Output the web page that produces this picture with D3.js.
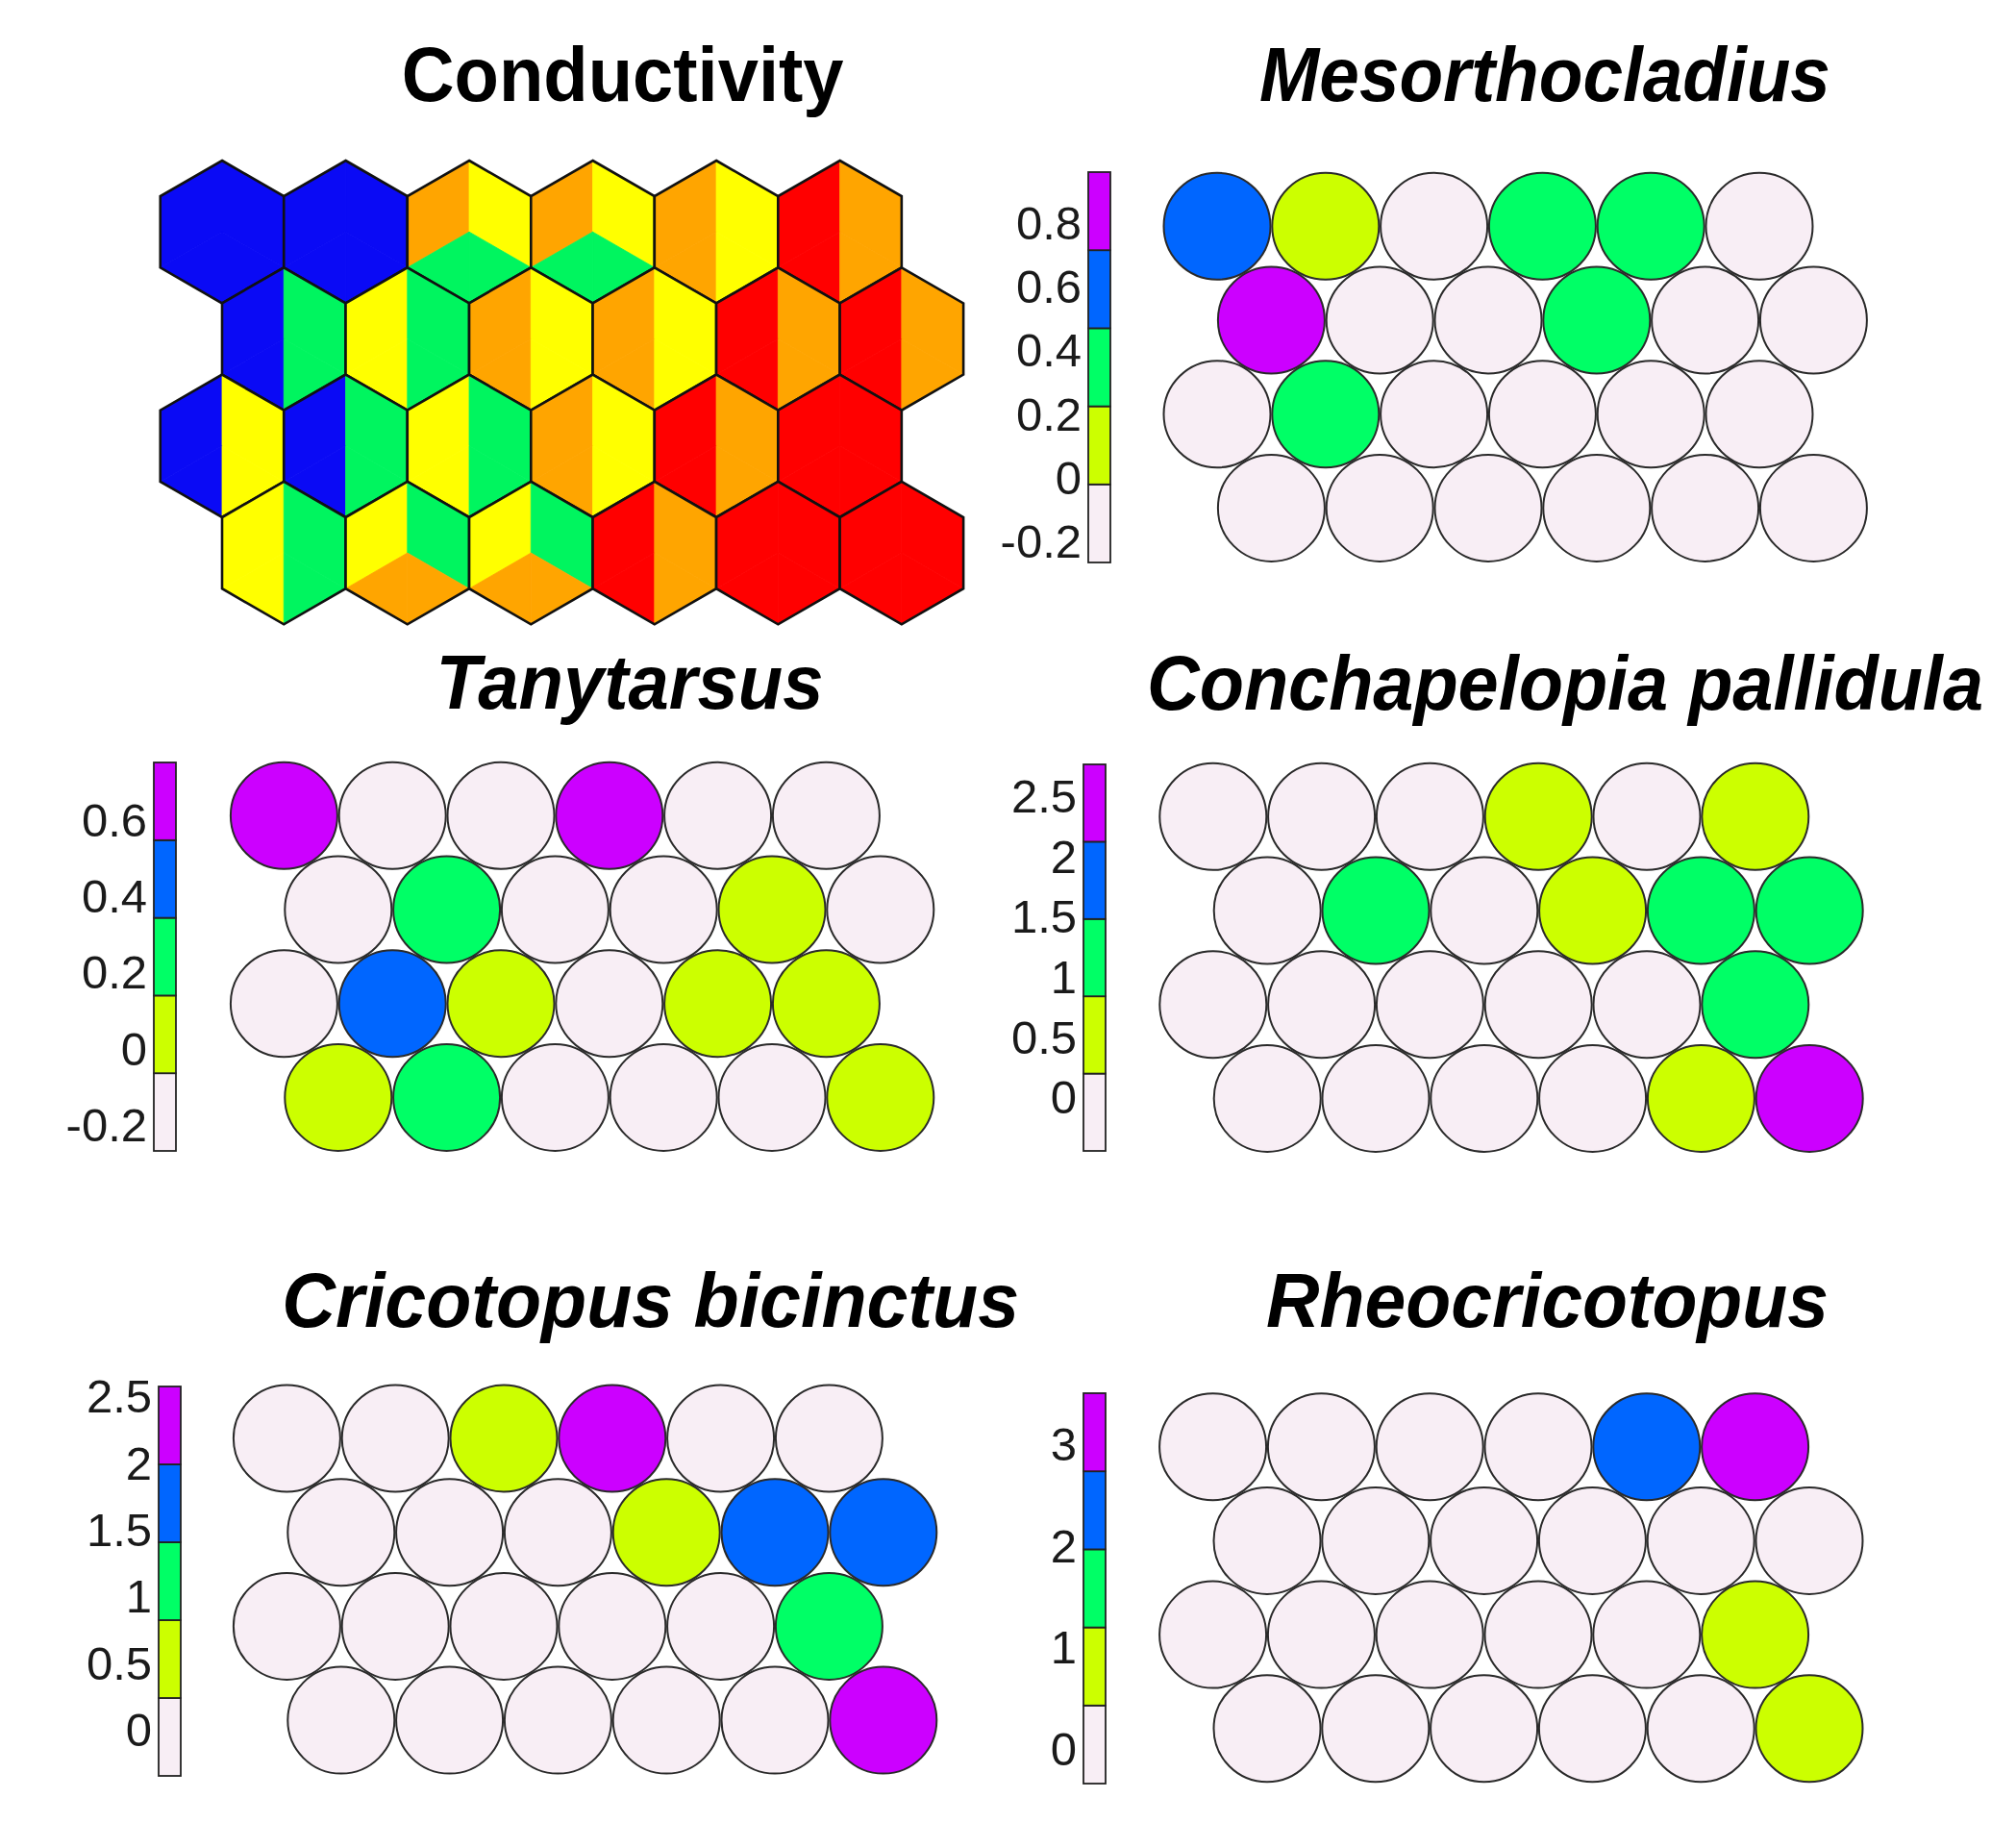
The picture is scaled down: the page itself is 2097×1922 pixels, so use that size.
<!DOCTYPE html>
<html>
<head>
<meta charset="utf-8">
<script src="https://d3js.org/d3.v7.min.js"></script>
<style>
  body { margin: 0; background: #fff; }
  svg { display: block; }
</style>
</head>
<body>
<div id="chart"></div>
<script>

//--------------------------------------
// DATA
//--------------------------------------

// conductivity classes per hex (1 blue .. 5 red), row by row, 6 x 4 nodes
var condLeft   = [1,1,4,4,4,5,  1,3,4,4,5,5,  1,1,3,4,5,5,  3,3,3,5,5,5];
var condRight  = [1,1,3,3,3,4,  2,2,3,3,4,4,  3,2,2,3,4,5,  2,2,2,4,5,5];
var condBottom = [0,0,2,2,0,0,  0,0,0,0,0,0,  0,0,0,0,0,0,  0,4,4,0,0,0];
var condColours = ["#0a0af5", "#00f55f", "#ffff00", "#ffa500", "#ff0000"];

// node values of the taxa maps, row by row
var mesoValues = [ 0.62, 0.12,-0.22, 0.38, 0.33,-0.25,
                   0.96,-0.24,-0.20, 0.41,-0.23,-0.26,
                  -0.21, 0.30,-0.24,-0.25,-0.22,-0.27,
                  -0.26,-0.23,-0.25,-0.27,-0.24,-0.26];
var tanyValues = [ 0.75,-0.25,-0.27, 0.70,-0.26,-0.24,
                  -0.25, 0.26,-0.27,-0.26, 0.05,-0.24,
                  -0.26, 0.45, 0.08,-0.27, 0.02, 0.10,
                   0.04, 0.22,-0.25,-0.27,-0.26, 0.06];
var conchValues = [-0.42,-0.40,-0.43, 0.55,-0.38, 0.60,
                   -0.41, 1.10,-0.44, 0.48, 1.25, 1.05,
                   -0.43,-0.45,-0.42,-0.40,-0.39, 1.20,
                   -0.44,-0.42,-0.41,-0.43, 0.70, 2.76];
var cricoValues = [-0.33,-0.30, 0.55, 2.30,-0.32,-0.34,
                   -0.31,-0.35,-0.33, 0.65, 1.70, 1.62,
                   -0.34,-0.32,-0.30,-0.33,-0.29, 1.10,
                   -0.34,-0.31,-0.35,-0.32,-0.30, 2.57];
var rheoValues = [-0.30,-0.33,-0.31,-0.28, 2.40, 3.50,
                  -0.35,-0.32,-0.30,-0.34,-0.29,-0.31,
                  -0.33,-0.30,-0.35,-0.32,-0.28, 0.90,
                  -0.34,-0.31,-0.33,-0.30,-0.29, 0.75];

// colour bar tick labels
var mesoTicks  = [-0.2, 0, 0.2, 0.4, 0.6, 0.8];
var tanyTicks  = [-0.2, 0, 0.2, 0.4, 0.6];
var conchTicks = [0, 0.5, 1, 1.5, 2, 2.5];
var cricoTicks = [0, 0.5, 1, 1.5, 2, 2.5];
var rheoTicks  = [0, 1, 2, 3];

var somColours = ["#f8eef5", "#ccff00", "#00ff66", "#0066ff", "#cc00ff"];

var NCOL = 6, NROW = 4;
var fontFamily = "'Liberation Sans', Arial, Helvetica, sans-serif";


//--------------------------------------
// SETUP
//--------------------------------------

var svg = d3.select("#chart").append("svg")
  .attr("width", 2097)
  .attr("height", 1922);

svg.append("rect").attr("width", 2097).attr("height", 1922).attr("fill", "#fff");


// titles are a bit condensed in the original, squeeze them horizontally
function _title(txt, cx, baseline, width, italic) {
  var t = svg.append("text")
    .attr("x", 0)
    .attr("y", 0)
    .attr("font-family", fontFamily)
    .attr("font-size", 79)
    .attr("font-weight", "bold")
    .attr("font-style", italic ? "italic" : "normal")
    .attr("text-anchor", "middle")
    .attr("fill", "#000")
    .text(txt);

  var natural = t.node().getComputedTextLength();
  var k = Math.min(1, width / natural);
  t.attr("transform", "translate(" + cx + "," + baseline + ") scale(" + k + ",1)");
}


//--------------------------------------
// CONDUCTIVITY HEX MAP
//--------------------------------------

function _drawConductivity() {

  var R = 74.2,
    w = Math.sqrt(3) * R;

  var x = d3.scaleLinear().domain([0, 1]).range([231, 231 + w]);
  var y = d3.scaleLinear().domain([0, 1]).range([241.2, 241.2 + 1.5 * R]);
  var colour = d3.scaleOrdinal().domain([1, 2, 3, 4, 5]).range(condColours);

  var g = svg.append("g");
  var line = d3.line();

  d3.range(NCOL * NROW).forEach(function(i) {
    var row = Math.floor(i / NCOL), col = i % NCOL;
    var cx = x(col + (row % 2) * 0.5), cy = y(row);

    var C = [cx, cy], T = [cx, cy - R], B = [cx, cy + R],
      UR = [cx + w / 2, cy - R / 2], LR = [cx + w / 2, cy + R / 2],
      LL = [cx - w / 2, cy + R / 2], UL = [cx - w / 2, cy - R / 2];

    var l = condLeft[i], r = condRight[i], b = condBottom[i];
    var pieces = [
      [[C, T, UL, LL], l],
      [[C, T, UR, LR], r],
      [[C, LL, B], b ? b : l],
      [[C, LR, B], b ? b : r]
    ];

    pieces.forEach(function(p) {
      g.append("path")
        .attr("d", line(p[0]) + "Z")
        .attr("fill", colour(p[1]))
        .attr("stroke", colour(p[1]))
        .attr("stroke-width", 0.8);
    });

    g.append("path")
      .attr("d", line([T, UR, LR, B, LL, UL]) + "Z")
      .attr("fill", "none")
      .attr("stroke", "#111")
      .attr("stroke-width", 2.6)
      .attr("stroke-linejoin", "miter");
  });

  _title("Conductivity", 647.6, 105, 460, false);
}


//--------------------------------------
// TAXA CIRCLE MAPS
//--------------------------------------

function _drawSom(values, ticks, cfg) {

  var ext = d3.extent(values);
  var colour = d3.scaleQuantize().domain(ext).range(somColours);

  var g = svg.append("g");

  // colour bar
  var yBar = d3.scaleLinear().domain(ext).range([cfg.barY1, cfg.barY0]);
  var bounds = [ext[0]].concat(colour.thresholds()).concat([ext[1]]);

  d3.range(somColours.length).forEach(function(k) {
    g.append("rect")
      .attr("x", cfg.barX)
      .attr("y", yBar(bounds[k + 1]))
      .attr("width", 23)
      .attr("height", yBar(bounds[k]) - yBar(bounds[k + 1]))
      .attr("fill", somColours[k])
      .attr("stroke", "#222")
      .attr("stroke-width", 1.8);
  });

  g.selectAll("text.tick").data(ticks).enter().append("text")
    .attr("class", "tick")
    .attr("x", cfg.barX - 7)
    .attr("y", function(d) { return yBar(d); })
    .attr("dy", "0.36em")
    .attr("text-anchor", "end")
    .attr("font-family", fontFamily)
    .attr("font-size", 49)
    .attr("fill", "#1a1a1a")
    .text(function(d) { return String(d); });

  // nodes
  var x = d3.scaleLinear().domain([0, 1]).range([cfg.x0, cfg.x0 + 112.8]);
  var y = d3.scaleLinear().domain([0, 1]).range([cfg.y0, cfg.y0 + 97.7]);

  g.selectAll("circle").data(values).enter().append("circle")
    .attr("cx", function(d, i) { var row = Math.floor(i / NCOL); return x(i % NCOL + (row % 2) * 0.5); })
    .attr("cy", function(d, i) { return y(Math.floor(i / NCOL)); })
    .attr("r", 55.5)
    .attr("fill", function(d) { return colour(d); })
    .attr("stroke", "#2a2a2a")
    .attr("stroke-width", 2);

  _title(cfg.title, cfg.titleX, cfg.titleY, cfg.titleW, true);
}


_drawConductivity();

_drawSom(mesoValues, mesoTicks, {
  title: "Mesorthocladius", titleX: 1607, titleY: 105, titleW: 594,
  barX: 1132, barY0: 179, barY1: 585, x0: 1266, y0: 235.3
});

_drawSom(tanyValues, tanyTicks, {
  title: "Tanytarsus", titleX: 655, titleY: 737, titleW: 403,
  barX: 160, barY0: 793, barY1: 1197, x0: 295.4, y0: 848.3
});

_drawSom(conchValues, conchTicks, {
  title: "Conchapelopia pallidula", titleX: 1628, titleY: 738, titleW: 870,
  barX: 1127, barY0: 795, barY1: 1197, x0: 1261.8, y0: 849.3
});

_drawSom(cricoValues, cricoTicks, {
  title: "Cricotopus bicinctus", titleX: 676.6, titleY: 1380, titleW: 767,
  barX: 165, barY0: 1442, barY1: 1847, x0: 298.4, y0: 1496
});

_drawSom(rheoValues, rheoTicks, {
  title: "Rheocricotopus", titleX: 1609.5, titleY: 1380, titleW: 585,
  barX: 1127, barY0: 1449, barY1: 1855, x0: 1261.6, y0: 1504.7
});

</script>
</body>
</html>
